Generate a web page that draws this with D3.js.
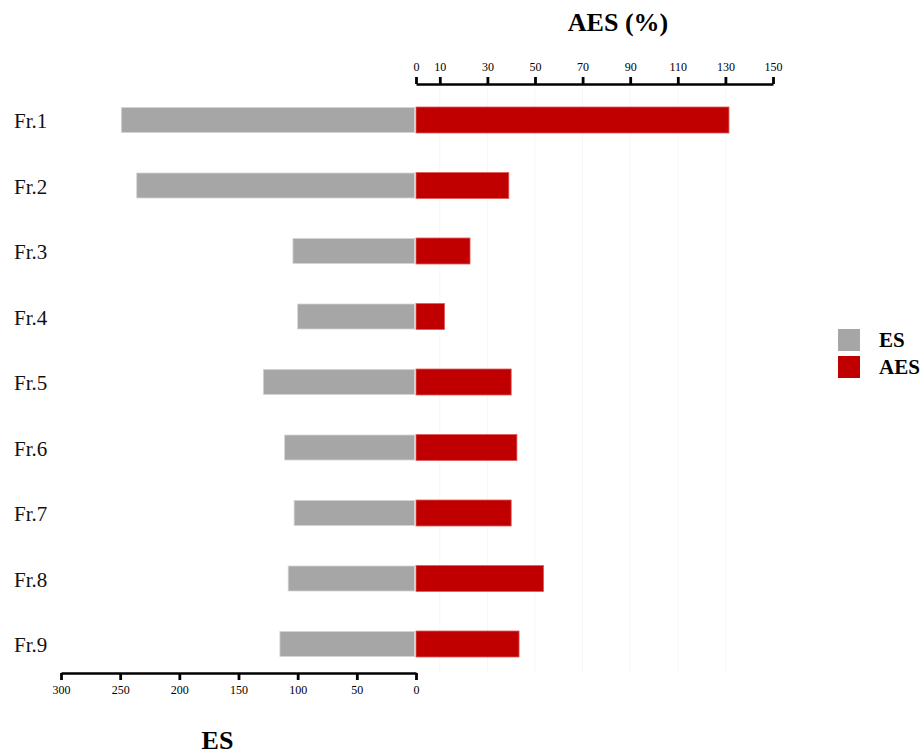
<!DOCTYPE html>
<html>
<head>
<meta charset="utf-8">
<script src="https://cdn.jsdelivr.net/npm/d3@7"></script>
<style>
  body { margin: 0; background: #fff; }
  svg { display: block; }
  text { font-family: "Liberation Serif", "Times New Roman", serif; }
</style>
</head>
<body>
<svg id="chart" width="922" height="754"></svg>
<script>
const categories = ["Fr.1","Fr.2","Fr.3","Fr.4","Fr.5","Fr.6","Fr.7","Fr.8","Fr.9"];
const esValues  = [249, 236, 104, 100, 129, 111, 103, 108, 115];
const aesValues = [131.5, 39, 22.7, 12, 40, 42.4, 40, 53.6, 43.3];
const aesTicks = [0, 10, 30, 50, 70, 90, 110, 130, 150];
const esTicks  = [300, 250, 200, 150, 100, 50, 0];
const seriesNames = ["ES", "AES"];
const colors = {ES: "#a6a6a6", AES: "#c00000"};

const svg = d3.select("#chart");

const zeroX = 416;
const xAES = d3.scaleLinear().domain([0, 150]).range([zeroX, 773]);
const xES  = d3.scaleLinear().domain([0, 300]).range([zeroX, 61]);
const y = d3.scalePoint().domain(categories).range([87.25, 676.75]).padding(0.5);
const barH = 25;

// faint gridlines
svg.append("g").selectAll("line").data(aesTicks.filter(d => d > 0 && d < 150)).join("line")
  .attr("x1", d => xAES(d)).attr("x2", d => xAES(d))
  .attr("y1", 88).attr("y2", 673)
  .attr("stroke", "#f7f7f7").attr("stroke-width", 1);

// ES bars
svg.append("g").selectAll("rect").data(categories).join("rect")
  .attr("x", (d, i) => xES(esValues[i]))
  .attr("y", d => y(d) - barH / 2)
  .attr("width", (d, i) => xES(0) - xES(esValues[i]) - 1.5)
  .attr("height", barH)
  .attr("fill", colors.ES)
  .attr("stroke", "#d4d4d4").attr("stroke-width", 0.8);

// AES bars
svg.append("g").selectAll("rect").data(categories).join("rect")
  .attr("x", xAES(0))
  .attr("y", d => y(d) - barH / 2 - 0.5)
  .attr("width", (d, i) => xAES(aesValues[i]) - xAES(0))
  .attr("height", barH + 1)
  .attr("fill", colors.AES)
  .attr("stroke", "#e25a5a").attr("stroke-width", 0.8);

// category labels
svg.append("g").selectAll("text").data(categories).join("text")
  .attr("x", 14)
  .attr("y", d => y(d) + 8)
  .attr("font-size", 21)
  .attr("fill", "#111")
  .text(d => d);

// top axis
const topAxis = svg.append("g").attr("transform", "translate(0,84)")
  .call(d3.axisTop(xAES).tickValues(aesTicks).tickSize(7).tickSizeOuter(0).tickPadding(6));
topAxis.select(".domain").attr("stroke", "#000").attr("stroke-width", 2.5);
topAxis.selectAll(".tick line").attr("stroke", "#000").attr("stroke-width", 2.8);
topAxis.selectAll(".tick text").attr("font-family", "Liberation Serif, serif").attr("font-size", 12).attr("fill", "#000");

// bottom axis
const botAxis = svg.append("g").attr("transform", "translate(0,673)")
  .call(d3.axisBottom(xES).tickValues(esTicks).tickSize(7).tickSizeOuter(0).tickPadding(5));
botAxis.select(".domain").attr("stroke", "#000").attr("stroke-width", 2.5);
botAxis.selectAll(".tick line").attr("stroke", "#000").attr("stroke-width", 2.8);
botAxis.selectAll(".tick text").attr("font-family", "Liberation Serif, serif").attr("font-size", 12).attr("fill", "#000");

// titles
svg.append("text").attr("x", 618).attr("y", 31).attr("text-anchor", "middle")
  .attr("font-size", 26).attr("font-weight", "bold").text("AES (%)");
svg.append("text").attr("x", 217.5).attr("y", 749).attr("text-anchor", "middle")
  .attr("font-size", 26).attr("font-weight", "bold").text("ES");

// legend
const leg = svg.append("g");
seriesNames.forEach((s, i) => {
  leg.append("rect").attr("x", 838).attr("y", 329 + i * 27).attr("width", 22).attr("height", 22)
    .attr("fill", colors[s]);
  leg.append("text").attr("x", 879).attr("y", 347 + i * 27)
    .attr("font-size", 21).attr("font-weight", "bold").text(s);
});
</script>
</body>
</html>
